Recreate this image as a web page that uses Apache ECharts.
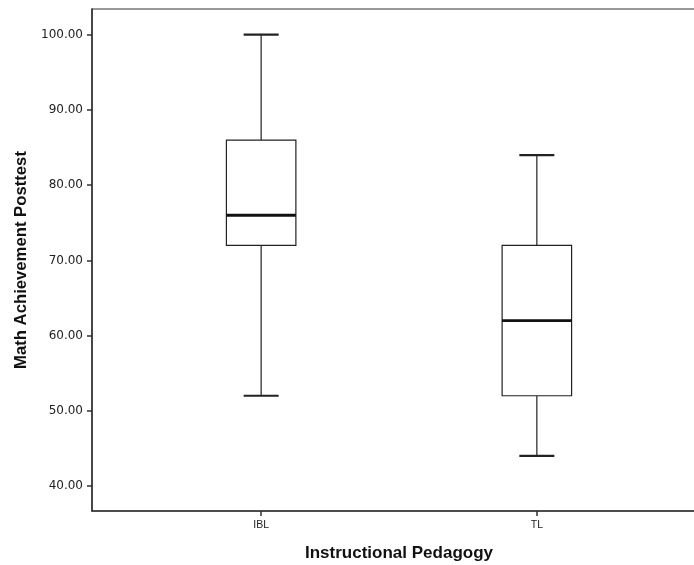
<!DOCTYPE html>
<html>
<head>
<meta charset="utf-8">
<script src="https://cdn.jsdelivr.net/npm/echarts@6/dist/echarts.min.js"></script>
<style>html,body{margin:0;padding:0;background:#fff;overflow:hidden;}#c{width:694px;height:565px;}</style>
</head>
<body>
<div id="c"></div>
<script>
const categories = ['IBL', 'TL'];
// [min, Q1, median, Q3, max]
const ibl = [52, 72, 76, 86, 100];
const tl = [44, 52, 62, 72, 84];
const yTicks = [40, 50, 60, 70, 80, 90, 100];
const xTitle = 'Instructional Pedagogy';
const yTitle = 'Math Achievement Posttest';

const boxData = [ibl, tl].map((d, i) => [i].concat(d));

function renderItem(params, api) {
  const x = api.value(0);
  const pMin = api.coord([x, api.value(1)]);
  const pQ1 = api.coord([x, api.value(2)]);
  const pMed = api.coord([x, api.value(3)]);
  const pQ3 = api.coord([x, api.value(4)]);
  const pMax = api.coord([x, api.value(5)]);
  const unit = api.size([1, 0])[0];
  const bw = unit * 0.252, cw = unit * 0.127;
  const cx = pMed[0];
  const stroke = '#222';
  return {
    type: 'group',
    children: [
      {type: 'line', shape: {x1: cx, y1: pMax[1], x2: cx, y2: pQ3[1]}, style: {stroke: stroke, lineWidth: 1.2}},
      {type: 'line', shape: {x1: cx, y1: pQ1[1], x2: cx, y2: pMin[1]}, style: {stroke: stroke, lineWidth: 1.2}},
      {type: 'line', shape: {x1: cx - cw / 2, y1: pMax[1], x2: cx + cw / 2, y2: pMax[1]}, style: {stroke: stroke, lineWidth: 2.2}},
      {type: 'line', shape: {x1: cx - cw / 2, y1: pMin[1], x2: cx + cw / 2, y2: pMin[1]}, style: {stroke: stroke, lineWidth: 2.2}},
      {type: 'rect', shape: {x: cx - bw / 2, y: pQ3[1], width: bw, height: pQ1[1] - pQ3[1]}, style: {fill: '#fff', stroke: stroke, lineWidth: 1.2}},
      {type: 'line', shape: {x1: cx - bw / 2, y1: pMed[1], x2: cx + bw / 2, y2: pMed[1]}, style: {stroke: '#111', lineWidth: 2.8}}
    ]
  };
}

const chart = echarts.init(document.getElementById('c'), null, {renderer: 'canvas'});
chart.setOption({
  backgroundColor: '#fff',
  animation: false,
  grid: {left: 92, width: 614, top: 9, bottom: 54, outerBoundsMode: 'none', containLabel: false,
    show: true, borderColor: '#333', borderWidth: 1.2, backgroundColor: 'transparent'},
  xAxis: {
    type: 'value', min: -0.6135, max: 1.6135,
    name: xTitle, nameLocation: 'middle', nameGap: 34,
    nameTextStyle: {fontFamily: 'Liberation Sans', fontWeight: 'bold', fontSize: 17, color: '#111'},
    axisLine: {show: true, onZero: false, lineStyle: {color: '#333', width: 1.5}},
    axisTick: {show: true, customValues: [0, 1], length: 5, lineStyle: {color: '#333', width: 1.5}},
    axisLabel: {customValues: [0, 1], formatter: v => categories[Math.round(v)] || '', margin: 9,
      fontFamily: 'Liberation Sans', fontSize: 10.5, color: '#222'},
    splitLine: {show: false}
  },
  yAxis: {
    type: 'value', min: 36.68, max: 103.42,
    name: yTitle, nameLocation: 'middle', nameGap: 53.5,
    nameTextStyle: {fontFamily: 'Liberation Sans', fontWeight: 'bold', fontSize: 16.7, color: '#111'},
    axisLine: {show: true, onZero: false, lineStyle: {color: '#333', width: 1.5}},
    axisTick: {show: true, customValues: yTicks, length: 5, lineStyle: {color: '#333', width: 1.5}},
    axisLabel: {customValues: yTicks, formatter: v => Number(v).toFixed(2), margin: 9,
      fontFamily: 'DejaVu Sans', fontSize: 12, color: '#222'},
    splitLine: {show: false}
  },
  series: [{
    type: 'custom',
    renderItem: renderItem,
    data: boxData,
    encode: {x: 0, y: [1, 2, 3, 4, 5]}
  }]
});
</script>
</body>
</html>
